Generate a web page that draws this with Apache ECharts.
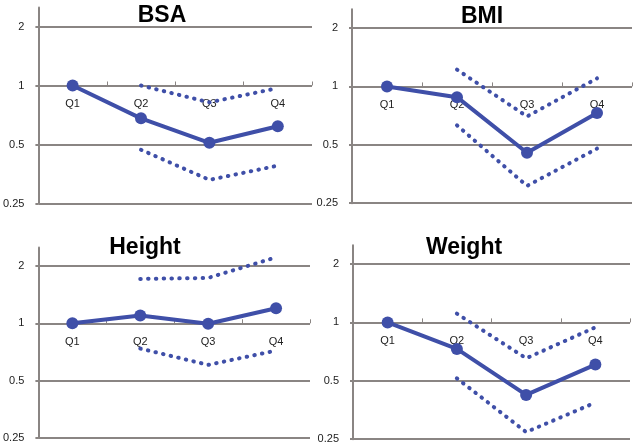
<!DOCTYPE html>
<html>
<head>
<meta charset="utf-8">
<script src="https://cdn.jsdelivr.net/npm/echarts@6/dist/echarts.min.js"></script>
<style>html,body{margin:0;padding:0;background:#fff}#c{width:640px;height:447px}</style>
</head>
<body>
<div id="c"></div>
<script>
const categories = ['Q1', 'Q2', 'Q3', 'Q4'];
const yTicks = [0.25, 0.5, 1, 2];
const panelTitles = ['BSA', 'BMI', 'Height', 'Weight'];

const bsaMean  = [1.0, 0.68, 0.51, 0.62];
const bsaUpper = [null, 1.0, 0.82, 0.97];
const bsaLower = [null, 0.47, 0.33, 0.39];

const bmiMean  = [1.0, 0.88, 0.455, 0.73];
const bmiUpper = [null, 1.22, 0.70, 1.10];
const bmiLower = [null, 0.63, 0.307, 0.478];

const heightMean  = [1.0, 1.10, 0.995, 1.20];
const heightUpper = [null, 1.71, 1.73, 2.22];
const heightLower = [null, 0.737, 0.605, 0.719];

const weightMean  = [1.0, 0.73, 0.423, 0.606];
const weightUpper = [null, 1.11, 0.653, 0.943];
const weightLower = [null, 0.515, 0.272, 0.386];

const panels = [
  {mean: bsaMean, upper: bsaUpper, lower: bsaLower},
  {mean: bmiMean, upper: bmiUpper, lower: bmiLower},
  {mean: heightMean, upper: heightUpper, lower: heightLower},
  {mean: weightMean, upper: weightUpper, lower: weightLower}
];

const yMin = 0.25, yMax = 2.5;
const grids = [
  {left: 33, top: 7.5, width: 279, height: 196},
  {left: 352, top: 9.2, width: 280, height: 194},
  {left: 33, top: 247.5, width: 277, height: 190.5},
  {left: 353, top: 245.2, width: 277, height: 194}
];
const titlePos = [
  {left: 162, top: 4},
  {left: 482, top: 5},
  {left: 145, top: 236},
  {left: 464, top: 236}
];

const lineColor = '#3f4fa8';
const gridColor = '#8a8583';

const option = {
  backgroundColor: '#fff',
  animation: false,
  title: panelTitles.map((t, i) => ({
    text: t, left: titlePos[i].left, top: titlePos[i].top, textAlign: 'center', padding: 0,
    textStyle: {fontFamily: 'Liberation Sans', fontWeight: 'bold', fontSize: 23, color: '#000'}
  })),
  grid: grids.map(g => Object.assign({containLabel: false}, g)),
  xAxis: grids.map((g, i) => ({
    type: 'category', gridIndex: i, data: categories, boundaryGap: true,
    position: 'bottom',
    offset: -g.height * Math.log2(1 / yMin) / Math.log2(yMax / yMin),
    axisLine: {show: false},
    axisTick: {show: true, inside: true, length: 4, lineStyle: {color: gridColor, width: 1}},
    axisLabel: {margin: 13, fontSize: 11, color: '#222', fontFamily: 'Liberation Sans'},
    splitLine: {show: false}
  })),
  yAxis: grids.map((g, i) => ({
    type: 'log', logBase: 2, gridIndex: i, min: yMin, max: yMax, interval: 1,
    axisLine: {show: true, lineStyle: {color: gridColor, width: 2}},
    axisTick: {show: true, length: 3, lineStyle: {color: gridColor, width: 2}},
    axisLabel: {
      margin: 14, fontSize: 11, color: '#222', fontFamily: 'Liberation Sans', showMaxLabel: false,
      formatter: v => {
        const hit = yTicks.find(t => Math.abs(t - v) < 1e-6);
        return hit === undefined ? '' : String(hit);
      }
    },
    splitLine: {show: true, showMaxLine: false, lineStyle: {color: gridColor, width: 2}}
  })),
  series: []
};

panels.forEach((p, i) => {
  option.series.push({
    type: 'line', xAxisIndex: i, yAxisIndex: i, data: p.mean,
    symbol: 'circle', symbolSize: 12,
    lineStyle: {color: lineColor, width: 4},
    itemStyle: {color: lineColor},
    z: 3
  });
  ['upper', 'lower'].forEach(k => {
    option.series.push({
      type: 'line', xAxisIndex: i, yAxisIndex: i, data: p[k],
      symbol: 'none', connectNulls: false,
      lineStyle: {color: lineColor, width: 4, type: [0.5, 7.3], cap: 'round'},
      z: 2
    });
  });
});

const chart = echarts.init(document.getElementById('c'), null, {renderer: 'canvas'});
chart.setOption(option);
</script>
</body>
</html>
